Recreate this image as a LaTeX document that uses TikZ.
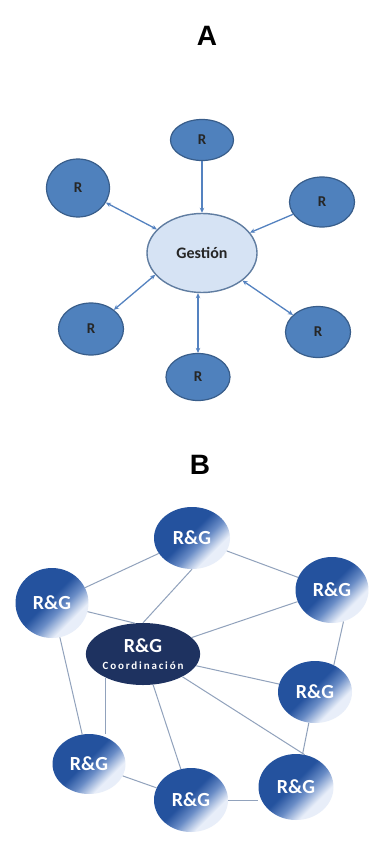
\documentclass[tikz,border=0pt]{standalone}
\usepackage{fontspec}
\usetikzlibrary{shapes.geometric,arrows.meta,calc}
\newfontfamily\carlito{Carlito}
\newfontfamily\titlefont{Liberation Sans}
\definecolor{rfill}{RGB}{79,129,189}
\definecolor{rborder}{RGB}{56,93,138}
\definecolor{gfill}{RGB}{214,227,244}
\definecolor{arrowc}{RGB}{84,130,192}
\definecolor{rgdark}{RGB}{36,82,158}
\definecolor{rgmid}{RGB}{105,140,198}
\definecolor{rglight}{RGB}{232,238,249}
\definecolor{coordc}{RGB}{30,50,96}
\definecolor{edgec}{RGB}{145,162,188}
\pgfdeclarehorizontalshading{rgshade}{100bp}{color(0bp)=(rgdark); color(25bp)=(rgdark); color(47bp)=(rgdark); color(57bp)=(rgmid); color(68bp)=(rglight); color(100bp)=(rglight)}
\tikzset{
  rnode/.style={ellipse, draw=rborder, line width=1.2pt, fill=rfill, inner sep=0pt,
    font=\carlito\bfseries\fontsize{15}{15}\selectfont, text=black!85},
  gnode/.style={ellipse, draw=rborder!80, line width=1.4pt, fill=gfill, inner sep=0pt,
    font=\carlito\bfseries\fontsize{16}{16}\selectfont, text=black!85},
  arr/.style={draw=arrowc, line width=1.3pt},
  tip/.style={-{Stealth[length=5pt,width=4.5pt]}},
  tips/.style={{Stealth[length=5pt,width=4.5pt]}-{Stealth[length=5pt,width=4.5pt]}},
  rgnode/.style={ellipse, shading=rgshade, shading angle=-45, inner sep=0pt,
    font=\carlito\bfseries\fontsize{20}{20}\selectfont, text=white},
  coordnode/.style={ellipse, fill=coordc, inner sep=0pt, text=white, align=center},
  edge/.style={draw=edgec, line width=1pt},
  title/.style={font=\titlefont\bfseries\fontsize{28}{28}\selectfont, text=black}
}
\begin{document}
\begin{tikzpicture}[x=1pt,y=-1pt]
\useasboundingbox[fill=white] (0,0) rectangle (380,842);
% ---------- A ----------
\node[title] (ta) at (207,36) {A};
\node[rnode, minimum width=63pt, minimum height=41pt] (rt) at (202,140) {R};
\node[rnode, minimum width=63pt, minimum height=58pt] (rul) at (78,188) {R};
\node[rnode, minimum width=65pt, minimum height=50pt] (rur) at (322,202) {R};
\node[gnode, minimum width=110pt, minimum height=79pt] (g) at (202,253) {Gestión};
\node[rnode, minimum width=65pt, minimum height=52pt] (rll) at (91,329) {R};
\node[rnode, minimum width=64pt, minimum height=47pt] (rb) at (198,377) {R};
\node[rnode, minimum width=65pt, minimum height=51pt] (rlr) at (318,332) {R};
\draw[arr,tip] (rt) -- (g);
\draw[arr,tips] (rul) -- (g);
\draw[arr,tip] (rur) -- (g);
\draw[arr,tips] (rll.40) -- (g.205);
\draw[arr,tips] (rb.north) -- (rb.north |- g.south);
\draw[arr,tips] (g) -- (rlr);
% ---------- B ----------
\node[title] (tb) at (200,465) {B};
\node[rgnode, minimum width=76pt, minimum height=62pt] (n1) at (192,538) {R\&G};
\node[rgnode, minimum width=73pt, minimum height=70pt] (n2) at (52,603) {R\&G};
\node[rgnode, minimum width=73pt, minimum height=66pt] (n3) at (332,590) {R\&G};
\node[coordnode, minimum width=108pt, minimum height=62pt] (c) at (143,654)
  {{\carlito\bfseries\fontsize{20}{20}\selectfont R\&G}\\[5pt]{\carlito\bfseries\fontsize{11}{11}\selectfont C\,o\,o\,r\,d\,i\,n\,a\,c\,i\,ó\,n}};
\node[rgnode, minimum width=74pt, minimum height=62pt] (n4) at (315,692) {R\&G};
\node[rgnode, minimum width=73pt, minimum height=60pt] (n5) at (89,764) {R\&G};
\node[rgnode, minimum width=74pt, minimum height=64pt] (n6) at (191,800) {R\&G};
\node[rgnode, minimum width=75pt, minimum height=66pt] (n7) at (296,787) {R\&G};
\draw[edge] (n1) -- (n2);
\draw[edge] (n1) -- (n3);
\draw[edge] (c.north) -- (n1.south);
\draw[edge] (n2) -- (c.105);
\draw[edge] (n2) -- (n5);
\draw[edge] (n3) -- (c);
\draw[edge] (n3.290) -- (n4.55);
\draw[edge] (c) -- (n4);
\draw[edge] (c.212) -- (c.212 |- n5.north);
\draw[edge] (c) -- (n6);
\draw[edge] (c.-30) -- (n7.75);
\draw[edge] (n4) -- (n7);
\draw[edge] (n5) -- (n6);
\draw[edge] (n6.east) -- (n6.east -| n7.west);
\end{tikzpicture}
\end{document}
